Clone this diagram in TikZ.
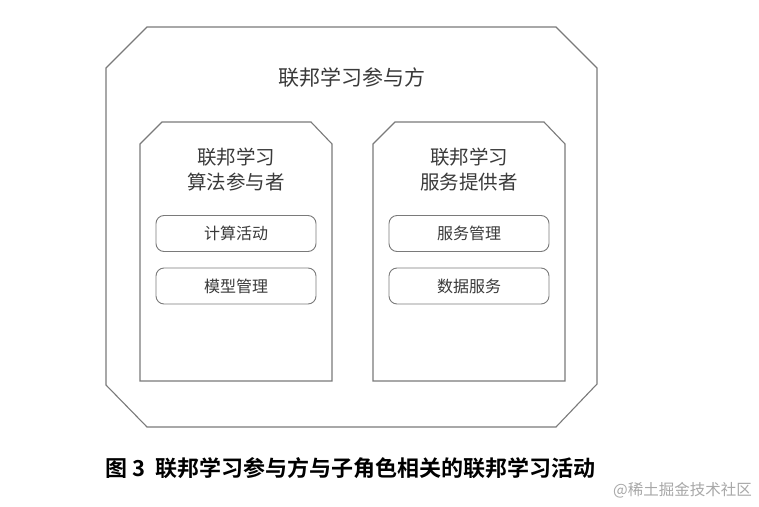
\documentclass[tikz,border=0pt]{standalone}
\usepackage{fontspec}
\newfontfamily\cjk{Noto Sans CJK SC}
\newfontfamily\cjkbold{Noto Sans CJK SC Bold}
\definecolor{linegray}{HTML}{7A7A7A}
\definecolor{textgray}{HTML}{3A3A3A}
\definecolor{markgray}{HTML}{A8A8A8}
\tikzset{
  x=1pt, y=-1pt,
  frame/.style={draw=linegray, line width=1.1pt, line join=miter},
  activity/.style={draw=linegray, line width=0.9pt, rounded corners=8pt, minimum width=160pt, minimum height=36pt, inner sep=0pt, text=textgray, font=\cjk\fontsize{16}{18}\selectfont},
  titletext/.style={text=textgray, align=center, inner sep=0pt},
}
\begin{document}
\begin{tikzpicture}
\useasboundingbox (0,0) rectangle (759,506);
\fill[white] (0,0) rectangle (759,506);
% outer participant frame
\draw[frame] (106,68) -- (147,27) -- (556,27) -- (597,68) -- (597,384) -- (556,427) -- (147,427) -- (106,385) -- cycle;
\node[titletext, font=\cjk\fontsize{21}{24}\selectfont] (party) at (351.5,78) {联邦学习参与方};
% left sub-role
\draw[frame] (140,144) -- (162,122) -- (311,122) -- (332,144) -- (332,381) -- (140,381) -- cycle;
\node[titletext, font=\cjk\fontsize{19.5}{25}\selectfont] (algo) at (236,170) {联邦学习\\算法参与者};
\node[activity] (compute) at (236,233.5) {计算活动};
\node[activity] (model) at (236,286) {模型管理};
% right sub-role
\draw[frame] (373,144) -- (395,122) -- (544,122) -- (565,144) -- (565,381) -- (373,381) -- cycle;
\node[titletext, font=\cjk\fontsize{19.5}{25}\selectfont] (service) at (469,170) {联邦学习\\服务提供者};
\node[activity] (svcmgmt) at (469,233.5) {服务管理};
\node[activity] (data) at (469,286) {数据服务};
% caption and watermark
\node[anchor=west, inner sep=0pt, font=\cjkbold\fontsize{22}{24}\selectfont, text=black] (caption) at (105,468) {图\hspace{0.25em}3\hspace{0.45em}联邦学习参与方与子角色相关的联邦学习活动};
\node[anchor=east, inner sep=0pt, font=\cjk\fontsize{15.5}{18}\selectfont, text=markgray] (mark) at (752,490) {@稀土掘金技术社区};
\end{tikzpicture}
\end{document}
